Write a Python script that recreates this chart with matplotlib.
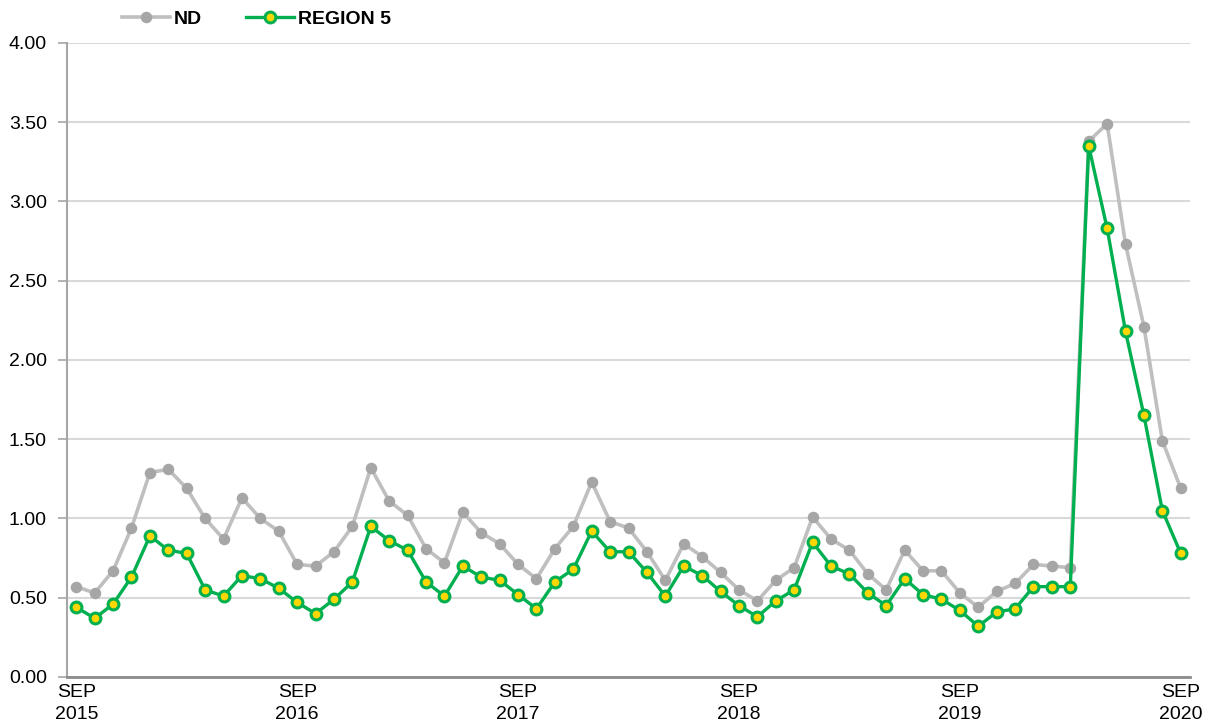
"""Monthly ND vs REGION 5 rate, Sep 2015 - Sep 2020."""

import matplotlib.pyplot as plt
import numpy as np

plt.rcParams["font.family"] = ["Liberation Sans", "DejaVu Sans"]

months = np.arange(61)  # Sep 2015 .. Sep 2020
tick_idx = [0, 12, 24, 36, 48, 60]
tick_labels = ["SEP\n2015", "SEP\n2016", "SEP\n2017", "SEP\n2018", "SEP\n2019", "SEP\n2020"]

nd = [
    0.57, 0.53, 0.67, 0.94, 1.29, 1.31, 1.19, 1.00, 0.87, 1.13, 1.00, 0.92,
    0.71, 0.70, 0.79, 0.95, 1.32, 1.11, 1.02, 0.81, 0.72, 1.04, 0.91, 0.84,
    0.71, 0.62, 0.81, 0.95, 1.23, 0.98, 0.94, 0.79, 0.61, 0.84, 0.76, 0.66,
    0.55, 0.48, 0.61, 0.69, 1.01, 0.87, 0.80, 0.65, 0.55, 0.80, 0.67, 0.67,
    0.53, 0.44, 0.54, 0.59, 0.71, 0.70, 0.69, 3.38, 3.49, 2.73, 2.21, 1.49,
    1.19,
]
region5 = [
    0.44, 0.37, 0.46, 0.63, 0.89, 0.80, 0.78, 0.55, 0.51, 0.64, 0.62, 0.56,
    0.47, 0.40, 0.49, 0.60, 0.95, 0.86, 0.80, 0.60, 0.51, 0.70, 0.63, 0.61,
    0.52, 0.43, 0.60, 0.68, 0.92, 0.79, 0.79, 0.66, 0.51, 0.70, 0.64, 0.54,
    0.45, 0.38, 0.48, 0.55, 0.85, 0.70, 0.65, 0.53, 0.45, 0.62, 0.52, 0.49,
    0.42, 0.32, 0.41, 0.43, 0.57, 0.57, 0.57, 3.35, 2.83, 2.18, 1.65, 1.05,
    0.78,
]

fig = plt.figure(figsize=(12.06, 7.27), dpi=100)
ax = fig.add_axes([0.0556, 0.0688, 0.9311, 0.8721])

ax.plot(
    months, nd, "-o", color="#BFBFBF", linewidth=2.6,
    markersize=8.3, markerfacecolor="#A6A6A6", markeredgecolor="#A6A6A6",
    markeredgewidth=0, label="ND", zorder=3,
)
ax.plot(
    months, region5, "-o", color="#00B050", linewidth=2.4,
    markersize=7.8, markerfacecolor="#FFD700", markeredgecolor="#00B050",
    markeredgewidth=2.2, label="REGION 5", zorder=4,
)

ax.set_xlim(-0.5, 60.5)
ax.set_ylim(0, 4)
ax.set_yticks(np.arange(0, 4.01, 0.5))
ax.set_yticklabels([f"{v:.2f}" for v in np.arange(0, 4.01, 0.5)], fontsize=14)
ax.set_xticks(tick_idx)
ax.set_xticklabels(tick_labels, fontsize=14, linespacing=1.4)
ax.tick_params(axis="x", length=0, pad=5)
ax.tick_params(axis="y", length=6.5, width=1.2, color="#A6A6A6", pad=8)

ax.grid(axis="y", color="#D9D9D9", linewidth=1.5)
ax.set_axisbelow(True)
for side in ("top", "right"):
    ax.spines[side].set_visible(False)
ax.spines["left"].set_color("#A6A6A6")
ax.spines["left"].set_linewidth(1.5)
ax.spines["bottom"].set_color("#8C8C8C")
ax.spines["bottom"].set_linewidth(2)

fig.legend(
    loc="center left", bbox_to_anchor=(0.1012, 0.974), ncol=2, frameon=False,
    borderpad=0, borderaxespad=0,
    handlelength=2.47, handletextpad=0.2, columnspacing=2.27,
    prop={"weight": "bold", "size": 14},
)

fig.savefig("out.png", dpi=100)
